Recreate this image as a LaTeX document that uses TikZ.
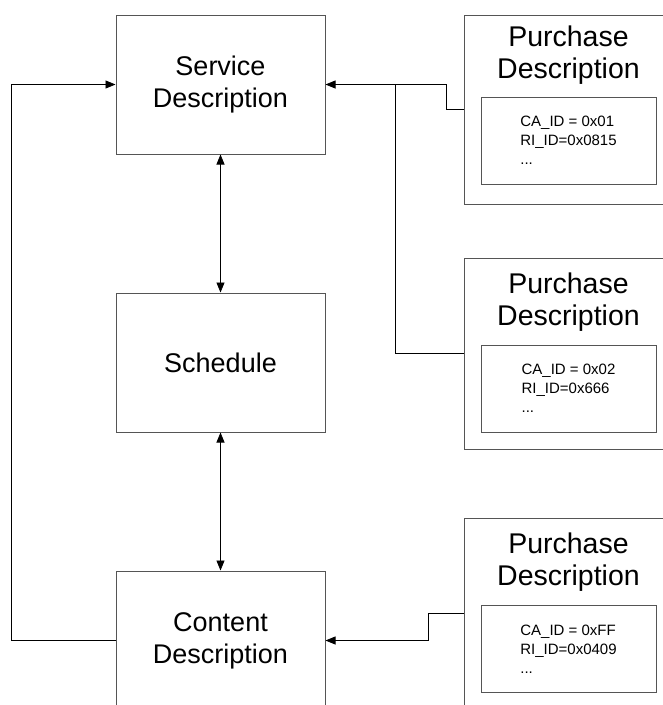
\documentclass[tikz,border=0pt]{standalone}
\usepackage{fontspec}
\setmainfont{Liberation Sans}
\usetikzlibrary{arrows.meta}
\definecolor{ink}{HTML}{000000}
\definecolor{frame}{HTML}{555555}
\tikzset{
  font=\fontsize{27}{32}\selectfont,
  >={Triangle[length=10pt, width=8pt]},
  %
  box/.style={
    draw=frame, line width=1pt, inner sep=0pt, align=center, text=ink,
    minimum width=209pt, minimum height=139pt,
  },
  pbox/.style={draw=frame, line width=1pt, inner sep=0pt, minimum width=209pt},
  ptitle/.style={font=\fontsize{28.5}{32}\selectfont, align=center,
                 inner sep=0pt, text=ink},
  idbox/.style={
    draw=frame, line width=1pt, inner sep=0pt, align=left, text=ink,
    minimum width=175pt, minimum height=87pt, font=\fontsize{15}{19}\selectfont,
  },
  %
  flow/.style={draw=ink, line width=0.8pt, ->},
  flowboth/.style={flow, <->},
  link/.style={draw=ink, line width=0.8pt},
}
\begin{document}
\begin{tikzpicture}[x=1pt, y=-1pt]
  \clip (0,0) rectangle (663,705);

  \node[box] (svc) at (220.5,84.5) {Service\\Description};
  \node[box] (sched) at (220.5,362.5) {Schedule};
  \node[box] (cont) at (220.5,640.5) {Content\\Description};

  \draw[flowboth] (svc) -- (sched);
  \draw[flowboth] (sched) -- (cont);
  \draw[flow] (cont.west) -- ++(-104,0) |- (svc.west);

  % purchase descriptions
  \node[pbox, minimum height=189pt] (pd1) at (568.5,109.5) {};
  \node[ptitle] (pt1) at (568.5,55.5) {Purchase\\Description};
  \node[idbox] (ids1) at (568.5,140.5) {CA\_ID = 0x01\\RI\_ID=0x0815\\...};

  \node[pbox, minimum height=191pt] (pd2) at (568.5,353.5) {};
  \node[ptitle] (pt2) at (568.5,302) {Purchase\\Description};
  \node[idbox] (ids2) at (568.5,388.5) {CA\_ID = 0x02\\RI\_ID=0x666\\...};

  \node[pbox, minimum height=190pt] (pd3) at (568.5,613.5) {};
  \node[ptitle] (pt3) at (568.5,562) {Purchase\\Description};
  \node[idbox] (ids3) at (568.5,649) {CA\_ID = 0xFF\\RI\_ID=0x0409\\...};

  \coordinate (jn) at (395,84.5);
  \draw[flow] (pd1.west) -- ++(-17,0) |- (svc.east);
  \draw[link] (pd2.west) -| (jn);
  \draw[flow] (pd3.west) -- ++(-35,0) |- (cont.east);

\end{tikzpicture}
\end{document}
